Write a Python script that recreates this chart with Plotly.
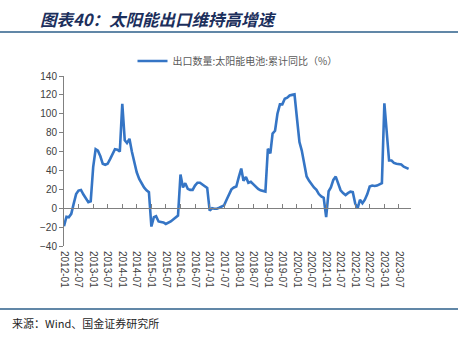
import pandas as pd
import plotly.graph_objects as go

# ---- data ----
start_month = "2012-01-01"
values = [
    # 2012
    -19, -9, -9.5, -6, 4.6, 15, 18.7, 19.4, 14.5, 10, 6.4, 7.4,
    # 2013
    43.5, 62.5, 61, 55, 47, 46, 47, 52, 58, 62.5, 62, 60,
    # 2014
    110.6, 72, 69, 73.5, 60, 47, 38, 31, 26, 22, 19, 17,
    # 2015
    -19.4, -9.5, -8.5, -14, -14.5, -15, -16.6, -15.5, -14, -12, -9.5, -7.8,
    # 2016
    35.7, 22, 26.5, 20.5, 19.4, 19.4, 24, 27, 27, 25, 23, 21.5,
    # 2017
    -2.5, 0, -0.5, -0.5, 0.5, 2, 3, 9, 15, 20, 22, 23,
    # 2018
    33, 42, 29, 33, 27, 28, 25.5, 22.5, 20.5, 19, 18, 17.7,
    # 2019
    63, 58, 79, 82, 100, 110, 110, 116, 117, 119.4, 120, 120.5,
    # 2020
    95, 70, 61, 47, 33.6, 29, 25, 22, 19.4, 15, 12.4, 11,
    # 2021
    -9.5, 18, 22, 30, 33.5, 26, 19, 16, 14, 16, 17.5, 17,
    # 2022
    4.6, 0.4, 9, 5.3, 9, 15, 23, 24, 23.5, 24, 25, 26.5,
    # 2023
    111, 80, 50.5, 50.5, 48, 47, 47, 46.3, 44, 43, 41.7,
]
dates = pd.date_range(start_month, periods=len(values), freq="MS")
series_name = "出口数量:太阳能电池:累计同比（%）"
title_text = "图表40：太阳能出口维持高增速"
source_text = "来源：Wind、国金证券研究所"
y_range = [-40, 140]
x_range = ["2012-01-01", "2023-12-01"]

axis_grey = "#808080"
line_blue = "#3575C5"

fig = go.Figure()
# invisible copy on the zero-crossing axis so that axis gets drawn
fig.add_trace(go.Scatter(
    x=dates, y=values, mode="lines", xaxis="x2", yaxis="y",
    line=dict(color="rgba(0,0,0,0)", width=0), showlegend=False,
    hoverinfo="skip",
))
fig.add_trace(go.Scatter(
    x=dates, y=values, mode="lines", name=series_name,
    line=dict(color=line_blue, width=2.6),
))

tick_font = dict(family="Liberation Sans, Arial", size=10, color="#404040")

fig.update_layout(
    width=463, height=341,
    margin=dict(l=64, r=52, t=76, b=95, autoexpand=False),
    paper_bgcolor="white", plot_bgcolor="white",
    showlegend=True,
    legend=dict(
        orientation="h", x=0.5, xanchor="center",
        yref="container", y=1 - 61 / 341, yanchor="middle",
        font=dict(family="Noto Sans CJK SC", size=10, color="#595959"),
        bgcolor="rgba(0,0,0,0)",
    ),
    xaxis=dict(
        type="date", range=x_range, tick0="2012-01-01", dtick="M6",
        tickformat="%Y-%m", tickangle=90, ticks="", showline=False,
        showgrid=False, zeroline=False, tickfont=tick_font,
        ticklabelstandoff=4,
    ),
    xaxis2=dict(
        type="date", range=x_range, tick0="2012-01-01", dtick="M6",
        overlaying="x", anchor="free",
        position=(0 - y_range[0]) / (y_range[1] - y_range[0]),
        side="bottom", ticks="inside", ticklen=4, tickcolor=axis_grey,
        showline=True, linecolor=axis_grey, linewidth=1,
        showticklabels=False, showgrid=False, zeroline=False,
    ),
    yaxis=dict(
        range=y_range, dtick=20, showgrid=False, zeroline=False,
        showline=True, linecolor=axis_grey, linewidth=1,
        ticks="outside", ticklen=4, tickcolor=axis_grey,
        tickfont=tick_font,
    ),
)

# title and rules
fig.add_annotation(
    text="<b><i>" + title_text + "</i></b>", xref="paper", yref="paper",
    x=-64 / 347, y=1 + (76 - 19) / 170, xanchor="left", yanchor="middle",
    xshift=38, showarrow=False,
    font=dict(family="Noto Sans CJK SC", size=16.5, color="#1c2f5c"),
)
fig.add_shape(type="line", xref="paper", yref="paper",
              x0=-64 / 347, x1=(458 - 64) / 347,
              y0=1 + (76 - 32) / 170, y1=1 + (76 - 32) / 170,
              line=dict(color="#2c5f8a", width=1.5))
fig.add_shape(type="line", xref="paper", yref="paper",
              x0=-64 / 347, x1=(458 - 64) / 347,
              y0=-(309 - 246) / 170, y1=-(309 - 246) / 170,
              line=dict(color="#2c5f8a", width=1.5))
fig.add_annotation(
    text=source_text, xref="paper", yref="paper",
    x=(10 - 64) / 347, y=-(323 - 246) / 170, xanchor="left", yanchor="middle",
    showarrow=False,
    font=dict(family="Noto Sans CJK SC", size=11, color="#262626"),
)

fig.write_html("out.html")
